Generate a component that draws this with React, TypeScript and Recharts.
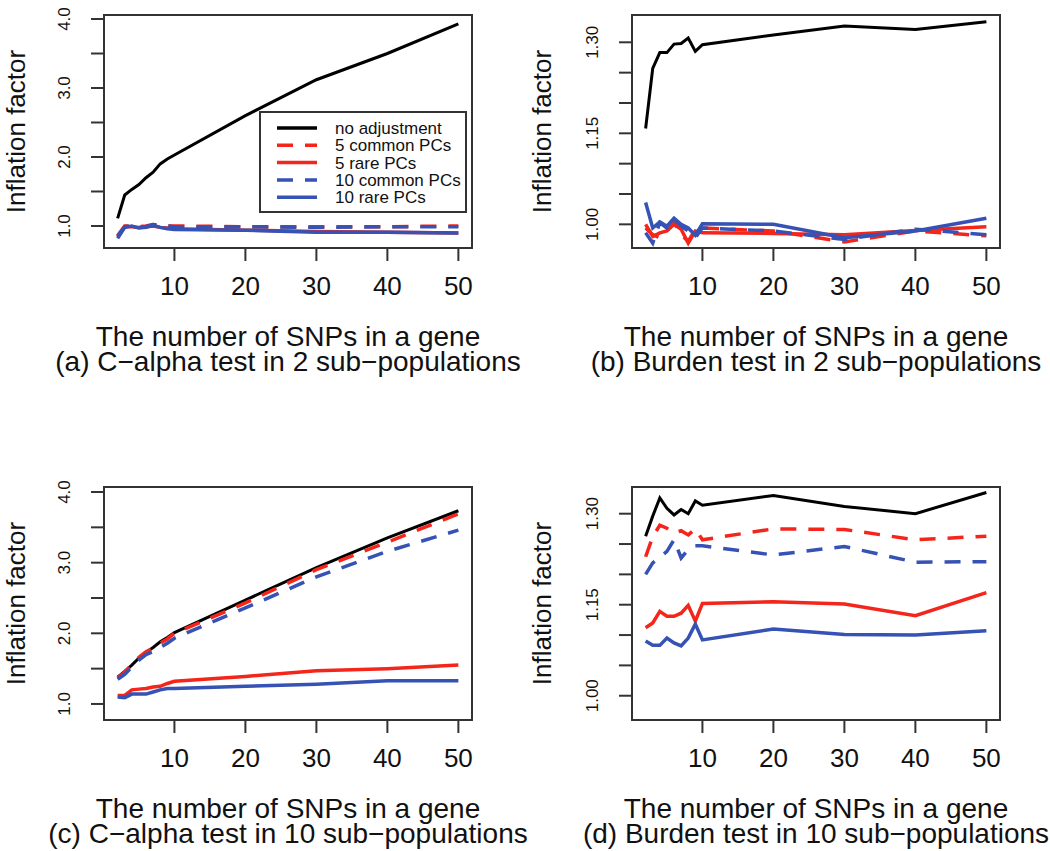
import React from 'react';
import { LineChart, Line, XAxis, YAxis, ReferenceArea } from 'recharts';

const FONT = '"Liberation Sans", Arial, Helvetica, sans-serif';
const RED = '#f4261c';
const BLUE = '#3552b4';
const FRAME = '#333';
const INK = '#111';

// x values: number of SNPs in a gene
const snps = [2, 3, 4, 5, 6, 7, 8, 9, 10, 20, 30, 40, 50];
const xTicks = [10, 20, 30, 40, 50];
const X_DOMAIN: [number, number] = [0.08, 51.92];

// (a) C-alpha, 2 sub-populations
const aNone = [1.11, 1.45, 1.53, 1.6, 1.7, 1.78, 1.9, 1.97, 2.03, 2.6, 3.12, 3.5, 3.93];
const aCommon5 = [0.86, 1.0, 1.0, 0.99, 1.0, 1.02, 1.01, 1.0, 1.0, 0.99, 0.99, 0.99, 1.0];
const aRare5 = [0.84, 0.99, 0.99, 0.98, 0.99, 1.0, 0.98, 0.97, 0.96, 0.94, 0.92, 0.91, 0.9];
const aCommon10 = [0.85, 0.99, 1.0, 0.99, 0.99, 1.02, 1.0, 1.0, 0.99, 0.99, 0.98, 0.99, 0.99];
const aRare10 = [0.82, 0.98, 1.0, 0.97, 0.98, 1.01, 0.98, 0.96, 0.95, 0.94, 0.91, 0.91, 0.9];

// (b) Burden, 2 sub-populations
const bNone = [1.158, 1.257, 1.283, 1.283, 1.297, 1.298, 1.307, 1.285, 1.296, 1.312, 1.327, 1.321, 1.334];
const bCommon5 = [0.994, 0.983, 0.978, 0.989, 1.003, 0.983, 0.972, 0.992, 0.994, 0.989, 0.971, 0.989, 0.981];
const bRare5 = [1.0, 0.98, 0.986, 0.989, 1.0, 0.992, 0.969, 0.989, 0.986, 0.985, 0.983, 0.99, 0.996];
const bCommon10 = [0.986, 0.969, 1.003, 0.994, 1.008, 0.997, 0.989, 0.978, 0.994, 0.989, 0.975, 0.992, 0.983];
const bRare10 = [1.036, 0.994, 1.004, 0.997, 1.01, 1.0, 0.994, 0.982, 1.001, 1.0, 0.978, 0.989, 1.01];

// (c) C-alpha, 10 sub-populations
const cNone = [1.38, 1.46, 1.55, 1.65, 1.73, 1.8, 1.88, 1.94, 2.01, 2.47, 2.93, 3.35, 3.735];
const cCommon5 = [1.37, 1.45, 1.56, 1.66, 1.74, 1.79, 1.86, 1.92, 2.0, 2.43, 2.9, 3.29, 3.69];
const cRare5 = [1.12, 1.12, 1.2, 1.21, 1.22, 1.24, 1.25, 1.29, 1.32, 1.39, 1.47, 1.5, 1.55];
const cCommon10 = [1.35, 1.42, 1.52, 1.62, 1.7, 1.74, 1.8, 1.86, 1.93, 2.36, 2.8, 3.16, 3.46];
const cRare10 = [1.1, 1.09, 1.14, 1.14, 1.14, 1.17, 1.2, 1.22, 1.22, 1.25, 1.28, 1.33, 1.33];

// (d) Burden, 10 sub-populations
const dNone = [1.263, 1.296, 1.326, 1.309, 1.298, 1.307, 1.3, 1.321, 1.314, 1.33, 1.312, 1.3, 1.335];
const dCommon5 = [1.229, 1.262, 1.281, 1.276, 1.268, 1.272, 1.265, 1.275, 1.257, 1.275, 1.274, 1.257, 1.263];
const dRare5 = [1.112, 1.12, 1.139, 1.131, 1.131, 1.136, 1.149, 1.123, 1.152, 1.155, 1.151, 1.132, 1.17];
const dCommon10 = [1.2, 1.219, 1.228, 1.238, 1.257, 1.227, 1.241, 1.247, 1.247, 1.232, 1.246, 1.22, 1.221];
const dRare10 = [1.09, 1.083, 1.083, 1.095, 1.087, 1.082, 1.095, 1.118, 1.092, 1.11, 1.101, 1.1, 1.107];

const calphaTicks = [1, 1.5, 2, 2.5, 3, 3.5, 4];
const calphaLabels = [1, 2, 3, 4];
const burdenTicks = [1, 1.05, 1.1, 1.15, 1.2, 1.25, 1.3];
const burdenLabels = [1, 1.15, 1.3];

const series = [
  { key: 'none', name: 'no adjustment', color: '#000', dash: undefined, width: 3 },
  { key: 'common5', name: '5 common PCs', color: RED, dash: '16 12', width: 3.5 },
  { key: 'rare5', name: '5 rare PCs', color: RED, dash: undefined, width: 3.5 },
  { key: 'common10', name: '10 common PCs', color: BLUE, dash: '16 12', width: 3.5 },
  { key: 'rare10', name: '10 rare PCs', color: BLUE, dash: undefined, width: 3.5 },
];

const toRows = (cols: number[][]) =>
  snps.map((x, i) => ({
    x,
    none: cols[0][i],
    common5: cols[1][i],
    rare5: cols[2][i],
    common10: cols[3][i],
    rare10: cols[4][i],
  }));

const panels = [
  {
    id: 'a', left: 0, top: 0, yw: 104, mt: 15,
    rows: toRows([aNone, aCommon5, aRare5, aCommon10, aRare10]),
    yDomain: [0.681, 4.058], yTicks: calphaTicks, yLabels: calphaLabels, digits: 1,
    caption: '(a) C\u2212alpha test in 2 sub\u2212populations',
  },
  {
    id: 'b', left: 525, top: 0, yw: 107, mt: 15,
    rows: toRows([bNone, bCommon5, bRare5, bCommon10, bRare10]),
    yDomain: [0.961, 1.345], yTicks: burdenTicks, yLabels: burdenLabels, digits: 2,
    caption: '(b) Burden test in 2 sub\u2212populations',
  },
  {
    id: 'c', left: 0, top: 440, yw: 104, mt: 47,
    rows: toRows([cNone, cCommon5, cRare5, cCommon10, cRare10]),
    yDomain: [0.773, 4.071], yTicks: calphaTicks, yLabels: calphaLabels, digits: 1,
    caption: '(c) C\u2212alpha test in 10 sub\u2212populations',
  },
  {
    id: 'd', left: 525, top: 440, yw: 107, mt: 47,
    rows: toRows([dNone, dCommon5, dRare5, dCommon10, dRare10]),
    yDomain: [0.96, 1.344], yTicks: burdenTicks, yLabels: burdenLabels, digits: 2,
    caption: '(d) Burden test in 10 sub\u2212populations',
  },
];

const PLOT_W = 368;
const PLOT_H = 233;
const X_AXIS_H = 60;

function Panel({ p }: { p: any }) {
  const width = p.left === 0 ? 520 : 495;
  const height = p.mt + PLOT_H + X_AXIS_H;
  const mr = width - p.yw - PLOT_W;
  return (
    <div style={{ position: 'absolute', left: p.left, top: p.top }}>
      <LineChart width={width} height={height} data={p.rows} margin={{ top: p.mt, right: mr, bottom: 0, left: 0 }}>
        <XAxis
          dataKey="x"
          type="number"
          domain={X_DOMAIN}
          ticks={xTicks}
          allowDataOverflow
          interval={0}
          height={X_AXIS_H}
          axisLine={false}
          tickLine={{ stroke: FRAME, strokeWidth: 2 }}
          tickSize={13}
          tickMargin={0}
          tick={(t: any) => (
            <text x={t.x} y={t.y + 34} textAnchor="middle" fontSize={26} fontFamily={FONT} fill={INK}>
              {t.payload.value}
            </text>
          )}
        />
        <YAxis
          type="number"
          domain={p.yDomain}
          ticks={p.yTicks}
          allowDataOverflow
          interval={0}
          width={p.yw}
          axisLine={false}
          tickLine={{ stroke: FRAME, strokeWidth: 2 }}
          tickSize={13}
          tickMargin={0}
          tick={(t: any) => {
            const v = Number(t.payload.value);
            if (!p.yLabels.some((l: number) => Math.abs(l - v) < 1e-6)) return <g />;
            const bx = t.x - 21;
            return (
              <text x={bx} y={t.y} transform={`rotate(-90 ${bx} ${t.y})`} textAnchor="middle" fontSize={17} fontFamily={FONT} fill={INK}>
                {v.toFixed(p.digits)}
              </text>
            );
          }}
        />
        {series.map((s) => (
          <Line
            key={s.key}
            type="linear"
            dataKey={s.key}
            name={s.name}
            stroke={s.color}
            strokeWidth={s.width}
            strokeDasharray={s.dash}
            dot={false}
            activeDot={false}
            isAnimationActive={false}
          />
        ))}
        <ReferenceArea
          x1={X_DOMAIN[0]}
          x2={X_DOMAIN[1]}
          y1={p.yDomain[0]}
          y2={p.yDomain[1]}
          fill="none"
          stroke={FRAME}
          strokeWidth={2}
          ifOverflow="visible"
        />
      </LineChart>
    </div>
  );
}

function Overlay() {
  return (
    <svg width={1050} height={851} style={{ position: 'absolute', left: 0, top: 0, pointerEvents: 'none' }} fontFamily={FONT} fill={INK}>
      {panels.map((p) => {
        const boxLeft = p.left + p.yw;
        const boxTop = p.top + p.mt;
        const cx = boxLeft + PLOT_W / 2;
        const cy = boxTop + PLOT_H / 2;
        const yx = p.left === 0 ? 25 : 551;
        const base = boxTop + PLOT_H;
        return (
          <g key={p.id}>
            <text x={yx} y={cy} transform={`rotate(-90 ${yx} ${cy})`} textAnchor="middle" fontSize={26}>
              Inflation factor
            </text>
            <text x={cx} y={base + 98} textAnchor="middle" fontSize={28}>
              The number of SNPs in a gene
            </text>
            <text x={cx} y={base + 123} textAnchor="middle" fontSize={28}>
              {p.caption}
            </text>
          </g>
        );
      })}
      <g>
        <rect x={260} y={112} width={206} height={100} fill="#fff" stroke={FRAME} strokeWidth={2} />
        {series.map((s, i) => {
          const y = 128 + i * 17.3;
          return (
            <g key={s.key}>
              <line x1={277} x2={317} y1={y} y2={y} stroke={s.color} strokeWidth={3.5} strokeDasharray={s.dash} />
              <text x={335} y={y + 6} fontSize={17}>
                {s.name}
              </text>
            </g>
          );
        })}
      </g>
    </svg>
  );
}

export default function App() {
  return (
    <div style={{ position: 'absolute', left: 0, top: 0, width: 1050, height: 851, background: '#fff' }}>
      {panels.map((p) => (
        <Panel key={p.id} p={p} />
      ))}
      <Overlay />
    </div>
  );
}
